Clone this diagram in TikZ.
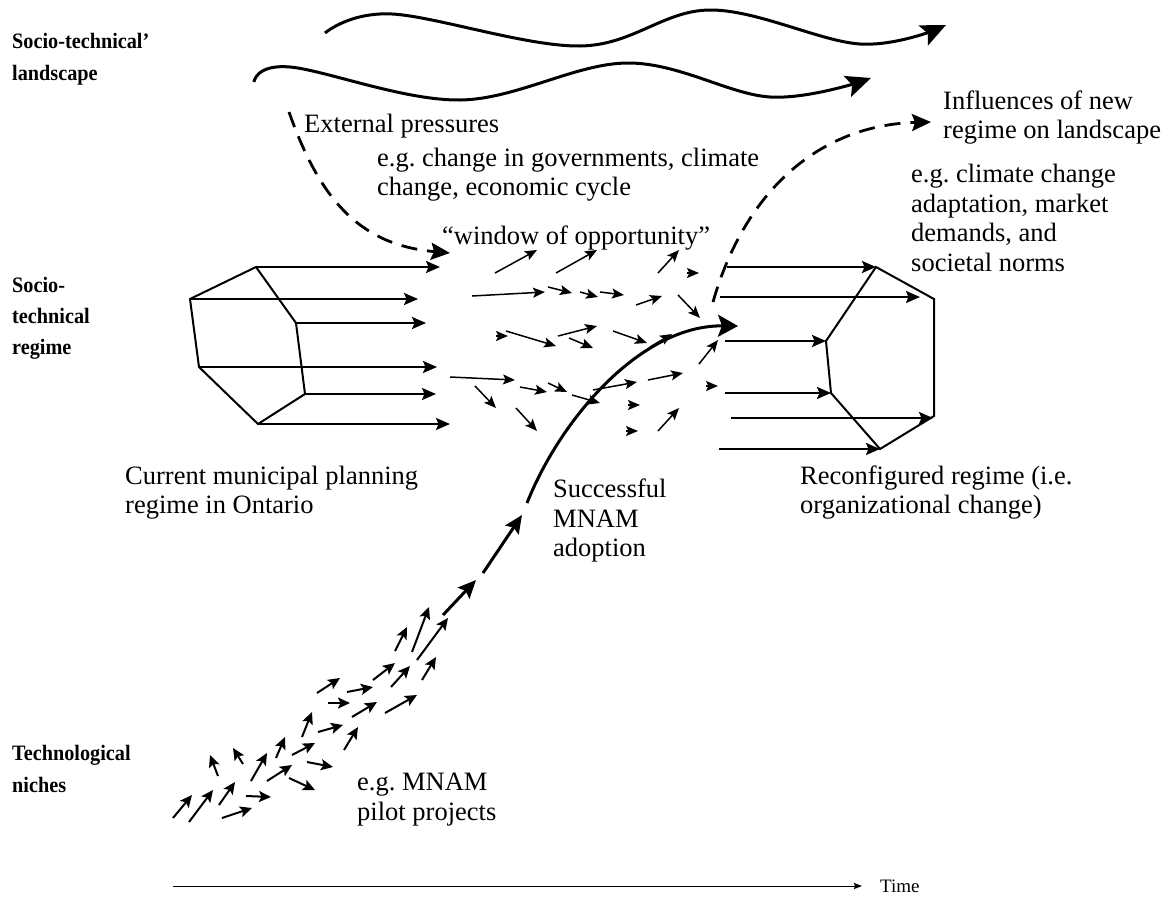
\documentclass[tikz,border=0pt]{standalone}
\usepackage{fontspec}
\setmainfont{Liberation Serif}
\newfontfamily\levelfont[FakeStretch=0.92]{Liberation Serif}
\usetikzlibrary{arrows.meta}
\frenchspacing
\begin{document}
\begin{tikzpicture}[x=1pt,y=-1pt,
  lbl/.style={anchor=base west, inner sep=0pt, font=\fontsize{22}{26}\levelfont\bfseries},
  txt/.style={anchor=base west, inner sep=0pt, font=\fontsize{26.5}{30}\selectfont},
  hexline/.style={line width=2pt, line join=miter},
  regarrow/.style={line width=2pt, -{Stealth[length=14pt,width=12pt,inset=2.5pt]}},
  smallarrow/.style={line width=1.5pt, -{Stealth[length=12pt,width=10pt,inset=2.5pt]}},
  nichearrow/.style={line width=2pt, -{Stealth[length=12pt,width=11pt,inset=2.5pt]}},
  wave/.style={line width=3pt, -{Stealth[length=25pt,width=22pt,inset=5pt]}},
  influence/.style={line width=2.8pt, dash pattern=on 16pt off 10pt,
    -{Stealth[length=19pt,width=17pt,inset=3pt]}},
  trajectory/.style={line width=3pt, -{Stealth[length=18pt,width=16pt,inset=3pt]}},
  axisarrow/.style={line width=1pt, -{Stealth[length=8pt,width=6pt,inset=1pt]}}]

\path[use as bounding box] (0,0) rectangle (1168,900);

% level labels
\node[lbl] (landA) at (12,48) {Socio-technical’};
\node[lbl] (landB) at (12,80) {landscape};
\node[lbl] (regA) at (12,292) {Socio-};
\node[lbl] (regB) at (12,323) {technical};
\node[lbl] (regC) at (12,354) {regime};
\node[lbl] (nicA) at (12,760) {Technological};
\node[lbl] (nicB) at (12,792) {niches};

% landscape trends
\draw[wave] plot[smooth, tension=0.6] coordinates
  {(325,33) (392,14) (580,46) (710,10) (860,44) (946,25)};
\draw[wave] plot[smooth, tension=0.6] coordinates
  {(254,82) (290,67) (460,100) (627,63) (770,97) (871,78)};

% current regime
\coordinate (L1) at (190,299);
\coordinate (L2) at (256,267);
\coordinate (L3) at (296,323);
\coordinate (L4) at (305,394);
\coordinate (L5) at (258,424);
\coordinate (L6) at (199,367);
\draw[hexline] (L1) -- (L2) -- (L3) -- (L4) -- (L5) -- (L6) -- cycle;
\draw[regarrow] (L2) -- ++(184,0);
\draw[regarrow] (L1) -- ++(228,0);
\draw[regarrow] (L3) -- ++(130,0);
\draw[regarrow] (L6) -- ++(238,0);
\draw[regarrow] (L4) -- ++(131,0);
\draw[regarrow] (L5) -- ++(192,0);

% reconfigured regime
\coordinate (R1) at (876,267);
\coordinate (R2) at (934,299);
\coordinate (R3) at (934,416);
\coordinate (R4) at (880,449);
\coordinate (R5) at (831,393);
\coordinate (R6) at (826,341);
\draw[hexline] (R1) -- (R2) -- (R3) -- (R4) -- (R5) -- (R6) -- cycle;
\draw[regarrow] ([xshift=-149pt]R1) -- (R1);
\draw[regarrow] (720,297) -- (920,297);
\draw[regarrow] ([xshift=-101pt]R6) -- (R6);
\draw[regarrow] ([xshift=-106pt]R5) -- (R5);
\draw[regarrow] (731,418) -- (933,418);
\draw[regarrow] ([xshift=-161pt]R4) -- (R4);

% window of opportunity: scattered moves
\foreach \a/\b in {
  {(495,273)}/{(537,250)}, {(556,273)}/{(597,250)}, {(658,273)}/{(679,250)},
  {(472,296)}/{(545,292)}, {(548,287)}/{(572,293)}, {(580,292)}/{(598,297)},
  {(600,292)}/{(624,295)}, {(636,305)}/{(662,296)}, {(678,295)}/{(700,318)},
  {(506,331)}/{(556,346)}, {(558,336)}/{(597,326)}, {(569,338)}/{(593,348)},
  {(613,331)}/{(647,343)}, {(450,377)}/{(515,380)}, {(520,387)}/{(547,392)},
  {(548,383)}/{(567,392)}, {(572,395)}/{(600,403)}, {(593,390)}/{(637,382)},
  {(648,380)}/{(683,373)}, {(475,386)}/{(496,408)}, {(516,408)}/{(537,431)},
  {(658,431)}/{(679,408)}, {(699,364)}/{(718,340)}, {(650,347)}/{(672,334)},
  {(496,336)}/{(508,336)}, {(687,273)}/{(699,273)}, {(628,405)}/{(640,405)},
  {(626,431)}/{(638,431)}, {(706,386)}/{(718,386)}}
  \draw[smallarrow] \a -- \b;

% technological niches
\foreach \a/\b in {
  {(173,818)}/{(192,795)}, {(189,822)}/{(213,790)}, {(219,805)}/{(235,782)},
  {(222,818)}/{(252,808)}, {(246,796)}/{(271,797)}, {(218,776)}/{(210,755)},
  {(243,764)}/{(233,748)}, {(251,781)}/{(267,753)}, {(267,781)}/{(292,765)},
  {(289,778)}/{(315,790)}, {(276,758)}/{(285,737)}, {(292,755)}/{(315,743)},
  {(307,762)}/{(333,767)}, {(302,737)}/{(312,712)}, {(318,732)}/{(343,725)},
  {(344,750)}/{(358,727)}, {(352,717)}/{(377,702)}, {(317,693)}/{(340,678)},
  {(328,703)}/{(350,703)}, {(347,692)}/{(373,687)}, {(385,713)}/{(417,695)},
  {(373,680)}/{(395,663)}, {(391,687)}/{(410,666)}, {(422,680)}/{(436,657)},
  {(395,651)}/{(407,627)}, {(412,652)}/{(429,607)}, {(417,660)}/{(448,618)}}
  \draw[nichearrow] \a -- \b;

% niche breakthrough trajectory
\coordinate (T0) at (443,615);
\coordinate (T1) at (476,580);
\coordinate (T2) at (483,573);
\coordinate (T3) at (522,515);
\coordinate (T4) at (527,503);
\coordinate (T5) at (738,326);
\draw[trajectory] (T0) -- (T1);
\draw[trajectory] (T2) -- (T3);
\draw[line width=3pt, -{Stealth[length=20pt,width=22pt,inset=4pt]}]
  (T4) .. controls (560,420) and (640,325) .. (T5);

% landscape pressure and feedback
\coordinate (P0) at (289,112);
\coordinate (P1) at (450,253);
\draw[influence] (P0) .. controls (320,200) and (360,245) .. (P1);
\coordinate (F0) at (713,302);
\coordinate (F1) at (931,122);
\draw[influence] (F0) .. controls (745,190) and (820,125) .. (F1);

% time axis
\coordinate (t0) at (173,886);
\coordinate (t1) at (862,886);
\draw[axisarrow] (t0) -- (t1);
\node[anchor=base west, inner sep=0pt, font=\fontsize{19}{22}\selectfont] (time) at (880,892) {Time};

% annotations
\node[txt] (ext) at (304,132) {External pressures};
\node[txt] (extA) at (377,166) {e.g. change in governments, climate};
\node[txt] (extB) at (377,195) {change, economic cycle};
\node[txt] (win) at (442,244) {“window of opportunity”};
\node[txt] (infA) at (943,109) {Influences of new};
\node[txt] (infB) at (943,138) {regime on landscape};
\node[txt] (egA) at (911,182) {e.g. climate change};
\node[txt] (egB) at (911,212) {adaptation, market};
\node[txt] (egC) at (911,241) {demands, and};
\node[txt] (egD) at (911,271) {societal norms};
\node[txt] (curA) at (125,484) {Current municipal planning};
\node[txt] (curB) at (125,513) {regime in Ontario};
\node[txt] (sucA) at (553,497) {Successful};
\node[txt] (sucB) at (553,527) {MNAM};
\node[txt] (sucC) at (553,556) {adoption};
\node[txt] (recA) at (800,484) {Reconfigured regime (i.e.};
\node[txt] (recB) at (800,513) {organizational change)};
\node[txt] (pilA) at (357,790) {e.g. MNAM};
\node[txt] (pilB) at (357,820) {pilot projects};
\end{tikzpicture}
\end{document}
